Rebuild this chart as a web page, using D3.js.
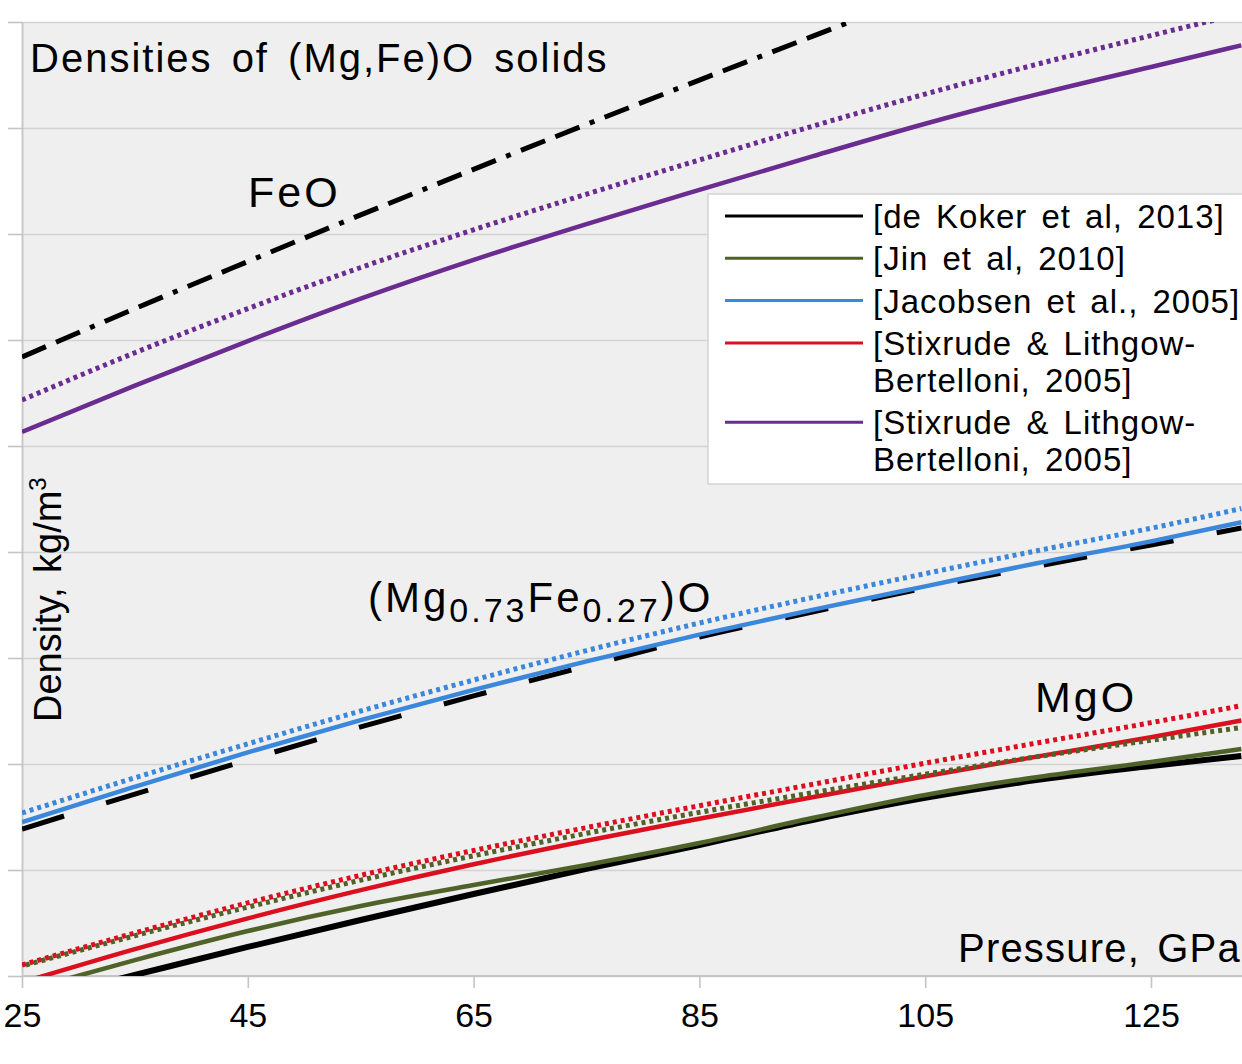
<!DOCTYPE html>
<html>
<head>
<meta charset="utf-8">
<script src="https://cdn.jsdelivr.net/npm/d3@7"></script>
<style>
    body { margin: 0; background: #fff; }
    svg { display: block; font-family: "Liberation Sans", Arial, Helvetica, sans-serif; }
</style>
</head>
<body>
<div id="chart"></div>
<script>
// pressure grid (GPa) shared by every curve
const pressure = [25, 35, 45, 55, 65, 75, 85, 95, 105, 115, 125, 133];

// densities, kg/m3 (curves run past the frame and get clipped)
const mgoDeKoker   = [3872, 4005, 4137, 4264, 4387, 4505, 4618, 4736, 4840, 4925, 4991, 5038];
const mgoJin       = [3928, 4075, 4212, 4330, 4429, 4524, 4627, 4745, 4854, 4939, 5009, 5071];
const mgoStixrude  = [3970, 4127, 4272, 4405, 4527, 4638, 4742, 4843, 4942, 5036, 5126, 5205];
const mgoStixHot   = [4052, 4203, 4345, 4475, 4592, 4700, 4803, 4904, 5004, 5100, 5195, 5275];
const mgoJinHot    = [4047, 4190, 4325, 4452, 4567, 4673, 4772, 4864, 4952, 5035, 5112, 5172];
const mixJacobsen  = [4726, 4893, 5055, 5207, 5350, 5484, 5610, 5727, 5838, 5948, 6050, 6140];
const mixJacobHot  = [4769, 4935, 5095, 5250, 5396, 5535, 5665, 5785, 5898, 6007, 6112, 6205];
const mixDeKoker   = [4693, 4858, 5019, 5175, 5321, 5462, 5599, 5717, 5830, 5934, 6033, 6113];
const feoDeKoker   = [6920, 7148, 7370, 7590, 7805, 8017, 8226, 8432, 8636, 8838, 9038, 9196];
const feoStixHot   = [6717, 6940, 7148, 7342, 7520, 7688, 7849, 8008, 8160, 8302, 8436, 8540];
const feoStixrude  = [6566, 6785, 6995, 7195, 7378, 7547, 7708, 7866, 8020, 8160, 8288, 8390];

const xTicks = [25, 45, 65, 85, 105, 125];
const yGrid = [4000, 4500, 5000, 5500, 6000, 6500, 7000, 7500, 8000, 8500];

const legendLabels = [
    ['[de Koker et al, 2013]'],
    ['[Jin et al, 2010]'],
    ['[Jacobsen et al., 2005]'],
    ['[Stixrude & Lithgow-', 'Bertelloni, 2005]'],
    ['[Stixrude & Lithgow-', 'Bertelloni, 2005]']
];

const colors = {
    black: '#000000',
    olive: '#4f6228',
    blue: '#3a87dc',
    red: '#dc0f1e',
    purple: '#6a2c91'
};

// draw order matters where lines overlap
const series = [
    {values: feoDeKoker, color: colors.black, width: 5, dash: '26,11,26,11,5,11'},
    {values: feoStixHot, color: colors.purple, width: 5, dash: '4,4'},
    {values: feoStixrude, color: colors.purple, width: 4.5, dash: null},
    {values: mixDeKoker, color: colors.black, width: 5, dash: '44,44'},
    {values: mixJacobsen, color: colors.blue, width: 4.5, dash: null},
    {values: mixJacobHot, color: colors.blue, width: 5, dash: '4,4'},
    {values: mgoDeKoker, color: colors.black, width: 6, dash: null},
    {values: mgoJin, color: colors.olive, width: 4.5, dash: null},
    {values: mgoStixrude, color: colors.red, width: 4.5, dash: null},
    {values: mgoJinHot, color: colors.olive, width: 5, dash: '4,4', offset: 4},
    {values: mgoStixHot, color: colors.red, width: 5, dash: '4,4'}
];

const width = 1242, height = 1064;
const plot = {left: 22, top: 22, right: 1242, bottom: 976};

const svg = d3.select('#chart').append('svg')
    .attr('width', width)
    .attr('height', height);

const x = d3.scaleLinear().domain([25, 125]).range([plot.left, 1151]);
const y = d3.scaleLinear().domain([4000, 8500]).range([plot.bottom, plot.top]);

// plot background
svg.append('rect')
    .attr('x', plot.left).attr('y', plot.top)
    .attr('width', plot.right - plot.left).attr('height', plot.bottom - plot.top)
    .attr('fill', '#efefef');

svg.append('clipPath').attr('id', 'plotclip')
    .append('rect')
    .attr('x', plot.left).attr('y', plot.top)
    .attr('width', plot.right - plot.left).attr('height', plot.bottom - plot.top);

// gridlines + left stubs
const grid = svg.append('g')
    .attr('transform', `translate(${plot.left},0)`)
    .call(d3.axisLeft(y).tickValues(yGrid).tickSize(-(plot.right - plot.left)).tickFormat(''));
grid.select('.domain').remove();
grid.selectAll('line').attr('stroke', '#d2d2d2').attr('stroke-width', 1.6);

const yAxis = svg.append('g')
    .attr('transform', `translate(${plot.left},0)`)
    .call(d3.axisLeft(y).tickValues(yGrid).tickSize(14).tickSizeOuter(0).tickFormat(''));
yAxis.select('.domain').attr('stroke', '#c4c4c4').attr('stroke-width', 1.8);
yAxis.selectAll('line').attr('stroke', '#c4c4c4').attr('stroke-width', 1.6);

const xAxis = svg.append('g')
    .attr('transform', `translate(0,${plot.bottom})`)
    .call(d3.axisBottom(x).tickValues(xTicks).tickSize(12).tickSizeOuter(0).tickPadding(15));
xAxis.select('.domain').attr('stroke', '#c4c4c4').attr('stroke-width', 1.8)
    .attr('d', `M${plot.left},0H${plot.right}`);
xAxis.selectAll('line').attr('stroke', '#c4c4c4').attr('stroke-width', 1.6);
xAxis.selectAll('text')
    .attr('font-size', 34)
    .attr('font-family', '"Liberation Sans", Arial, sans-serif')
    .attr('fill', '#000');

// curves
const line = d3.line()
    .x((d, i) => x(pressure[i]))
    .y(d => y(d))
    .curve(d3.curveMonotoneX);

svg.append('g').attr('clip-path', 'url(#plotclip)')
    .selectAll('path')
    .data(series)
    .join('path')
    .attr('d', d => line(d.values))
    .attr('fill', 'none')
    .attr('stroke', d => d.color)
    .attr('stroke-width', d => d.width)
    .attr('stroke-dasharray', d => d.dash)
    .attr('stroke-dashoffset', d => d.offset || 0);

// in-plot labels
const labels = svg.append('g').attr('fill', '#000');

labels.append('text')
    .attr('x', 30).attr('y', 72)
    .attr('font-size', 40)
    .attr('letter-spacing', 2)
    .attr('word-spacing', 6)
    .text('Densities of (Mg,Fe)O solids');

labels.append('text')
    .attr('x', 248).attr('y', 207)
    .attr('font-size', 43)
    .attr('letter-spacing', 3)
    .text('FeO');

labels.append('text')
    .attr('x', 1035).attr('y', 712)
    .attr('font-size', 43)
    .attr('letter-spacing', 3)
    .text('MgO');

const mix = labels.append('text')
    .attr('x', 368).attr('y', 612)
    .attr('font-size', 42)
    .attr('letter-spacing', 3);
mix.append('tspan').text('(Mg');
mix.append('tspan').attr('font-size', 34).attr('dy', 10).text('0.73');
mix.append('tspan').attr('dy', -10).text('Fe');
mix.append('tspan').attr('font-size', 34).attr('dy', 10).text('0.27');
mix.append('tspan').attr('dy', -10).text(')O');

labels.append('text')
    .attr('x', 958).attr('y', 962)
    .attr('font-size', 40)
    .attr('letter-spacing', 1.2)
    .attr('word-spacing', 5)
    .text('Pressure, GPa');

const ylab = labels.append('text')
    .attr('transform', 'translate(61,722) rotate(-90)')
    .attr('font-size', 38)
    .attr('word-spacing', 4);
ylab.append('tspan').text('Density, kg/m');
ylab.append('tspan').attr('font-size', 24).attr('dy', -15).text('3');

// legend (the box runs off the right edge, as in the original)
const legendColors = [colors.black, colors.olive, colors.blue, colors.red, colors.purple];
const legend = svg.append('g');
legend.append('rect')
    .attr('x', 708).attr('y', 194)
    .attr('width', 560).attr('height', 290)
    .attr('fill', '#fff')
    .attr('stroke', '#d4d4d4')
    .attr('stroke-width', 1.5);

let ly = 216;
legendLabels.forEach((lines, i) => {
    const g = legend.append('g').attr('transform', `translate(0,${ly})`);
    g.append('line')
        .attr('x1', 725).attr('x2', 863)
        .attr('stroke', legendColors[i])
        .attr('stroke-width', 3);
    const t = g.append('text')
        .attr('x', 873).attr('y', 12)
        .attr('font-size', 33)
        .attr('letter-spacing', 1)
        .attr('word-spacing', 4);
    lines.forEach((s, j) => {
        t.append('tspan').attr('x', 873).attr('dy', j === 0 ? 0 : 37).text(s);
    });
    ly += 42.3 + 37 * (lines.length - 1);
});
</script>
</body>
</html>
